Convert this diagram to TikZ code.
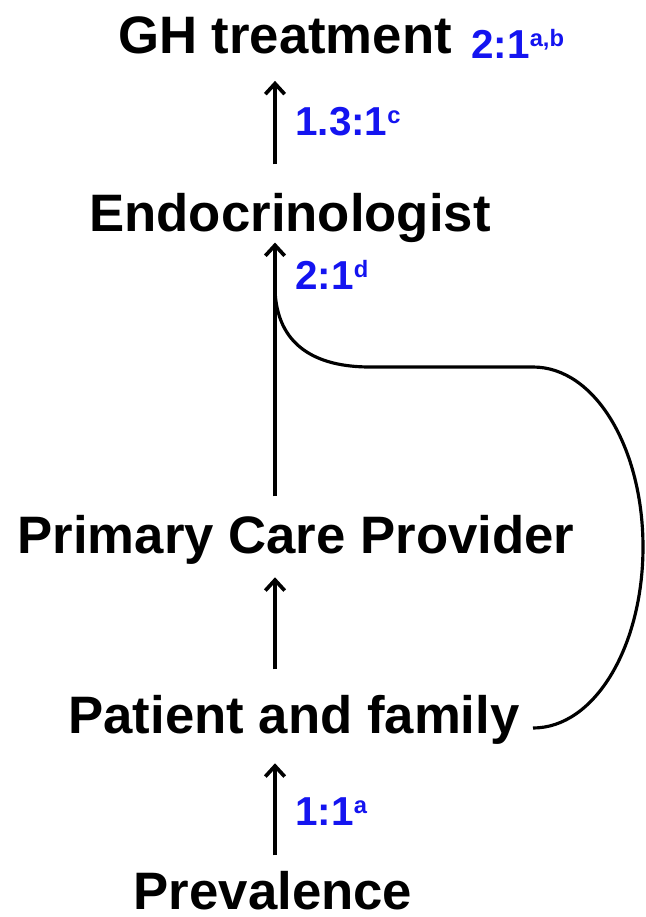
\documentclass[tikz,border=0pt]{standalone}
\usepackage{fontspec}
\setmainfont{Liberation Sans}
\usepackage{tikz}
\usetikzlibrary{arrows.meta}
\definecolor{blu}{HTML}{1414F0}
\newcommand{\supr}[1]{\raisebox{6.5pt}{\fontsize{13.5}{14}\selectfont #1}}

\begin{document}
\begin{tikzpicture}[x=0.02cm,y=-0.02cm,
  lvl/.style={font=\fontsize{30}{32}\selectfont\bfseries,anchor=base,inner sep=0pt},
  ratio/.style={blu,font=\fontsize{23}{24}\selectfont\bfseries,anchor=base west,inner sep=0pt},
  up/.style={-{Straight Barb[length=6pt,width=11pt]},line width=2.1pt}]
  \useasboundingbox (0,0) rectangle (646,917);
  % levels
  \node[lvl] (gh) at (285,53){GH treatment};
  \node[lvl] (endo) at (290,231){Endocrinologist};
  \node[lvl] (pcp) at (296,553){Primary Care Provider};
  \node[lvl] (pf) at (294,733){Patient and family};
  \node[lvl] (prev) at (273,909){Prevalence};
  % ratios
  \node[ratio] (r1) at (471,58){2:1\supr{a,b}};
  \node[ratio] (r2) at (295,135){1.3:1\supr{c}};
  \node[ratio] (r3) at (295,289){2:1\supr{d}};
  \node[ratio] (r4) at (295,825){1:1\supr{a}};
  % arrows
  \coordinate (stem) at (275,0);
  \draw[up,shorten <=0.56cm,shorten >=0.54cm] (endo.north -| stem) -- (gh.south -| stem);
  \draw[up,shorten <=0.36cm] (pcp.north -| stem) -- (endo.south -| stem);
  \draw[up,shorten <=0.5cm,shorten >=0.26cm] (pf.north -| stem) -- (pcp.south -| stem);
  \draw[up,shorten <=0.3cm,shorten >=0.38cm] (prev.north -| stem) -- (pf.south -| stem);
  % bypass loop
  \coordinate (j) at (275,290);
  \coordinate (pfend) at (533,728);
  \draw[line width=1.8pt] (j) .. controls (277,345) and (315,367) .. (370,367) -- (533,367)
    .. controls (595,367) and (643,448) .. (643,547) .. controls (643,646) and (595,728) .. (pfend);
\end{tikzpicture}
\end{document}
